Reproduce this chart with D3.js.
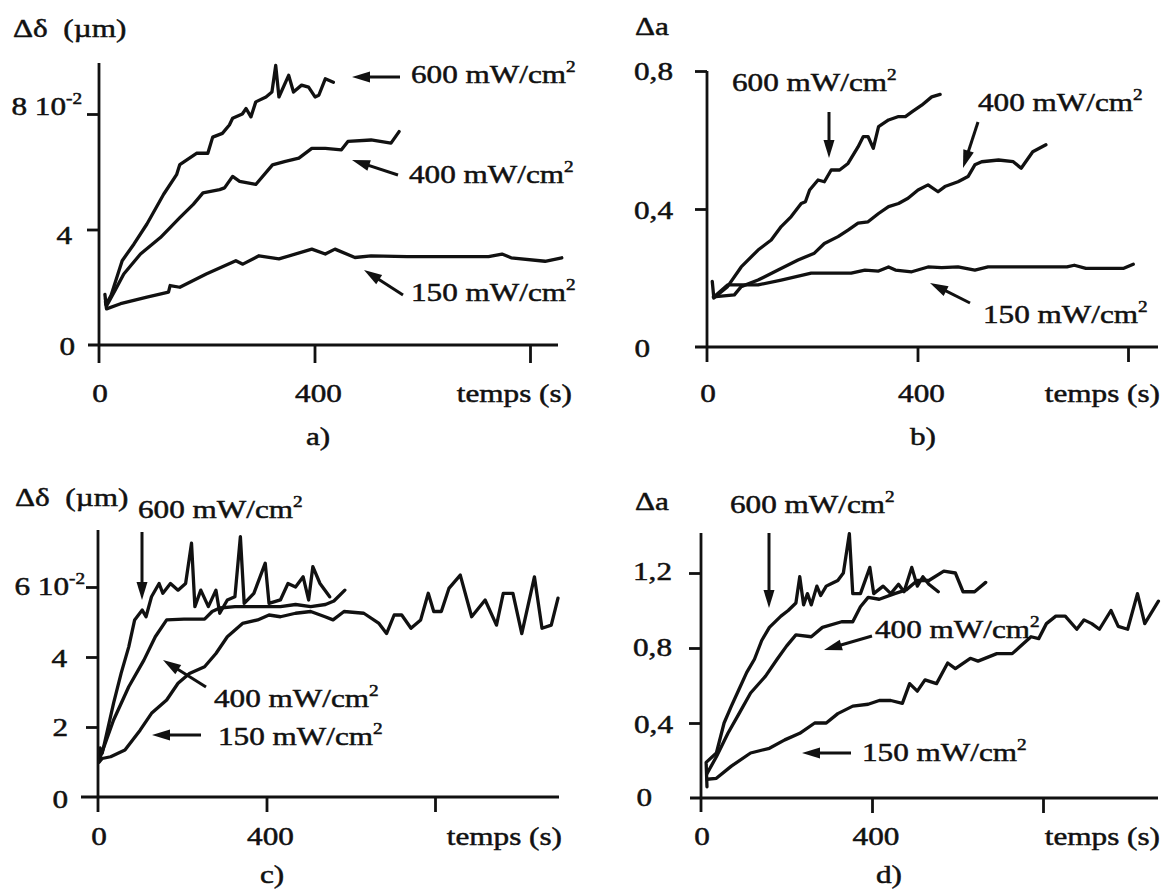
<!DOCTYPE html>
<html><head><meta charset="utf-8">
<script src="https://cdn.jsdelivr.net/npm/d3@7"></script>
<style>html,body{margin:0;padding:0;background:#fff}</style>
</head><body>
<svg id="chart" width="1165" height="890"></svg>
<script>
// ---------------- DATA (time in s, value) ----------------
const powers = ["600", "400", "150"];
const unitText = " mW/cm^2";
const xTitle = "temps (s)";
const xTicks = [0, 400, 800];
const xTickLabels = ["0", "400", ""];

// Panel a : Δδ (µm, x10^-2)
const yTicksA = [0, 4, 8];
const yLabelsA = ["0", "4", "8 10^-2"];
const a600 = [[11,1.75],[13,1.4],[22,1.7],[43,2.92],[65,3.5],[89,4.19],[120,5.22],[144,5.9],[150,6.25],[181,6.64],[202,6.64],[211,7.2],[229,7.33],[242,7.62],[248,7.85],[266,8.0],[273,8.19],[282,7.9],[291,8.42],[310,8.59],[321,8.76],[328,9.68],[334,8.59],[352,9.34],[361,8.76],[376,9.0],[389,8.93],[401,8.59],[408,8.65],[420,9.22],[435,9.1]];
const a400 = [[12,1.6],[14,1.35],[30,1.9],[46,2.46],[77,3.15],[114,3.72],[150,4.41],[175,4.87],[193,5.27],[224,5.38],[233,5.44],[248,5.84],[261,5.67],[291,5.56],[322,6.24],[346,6.36],[371,6.47],[395,6.81],[420,6.81],[450,6.76],[462,7.05],[505,7.1],[542,6.99],[557,7.39]];
const a150 = [[12,1.5],[14,1.25],[40,1.43],[89,1.66],[129,1.83],[132,2.06],[150,2.0],[199,2.46],[254,2.92],[267,2.8],[297,3.09],[334,2.98],[395,3.32],[420,3.15],[438,3.32],[475,3.03],[505,3.09],[572,3.06],[723,3.06],[748,3.15],[765,3.02],[828,2.9],[859,3.02]];

// Panel b : Δa
const yTicksB = [0, 0.4, 0.8];
const yLabelsB = ["0", "0,4", "0,8"];
const b600 = [[10,0.19],[13,0.142],[39,0.175],[65,0.232],[97,0.281],[122,0.31],[141,0.349],[160,0.378],[179,0.416],[187,0.421],[195,0.455],[211,0.484],[223,0.479],[236,0.513],[252,0.513],[268,0.532],[287,0.58],[297,0.61],[306,0.61],[316,0.576],[326,0.639],[345,0.658],[364,0.668],[377,0.668],[390,0.682],[408,0.701],[427,0.725],[443,0.732]];
const b400 = [[12,0.145],[52,0.151],[65,0.175],[97,0.194],[135,0.223],[173,0.252],[204,0.272],[223,0.3],[249,0.32],[268,0.339],[287,0.359],[306,0.363],[326,0.387],[345,0.407],[364,0.416],[382,0.431],[401,0.455],[420,0.47],[439,0.45],[452,0.465],[477,0.479],[496,0.494],[509,0.528],[522,0.537],[554,0.542],[582,0.537],[597,0.518],[608,0.542],[619,0.566],[644,0.586]];
const b150 = [[13,0.145],[39,0.18],[97,0.18],[141,0.194],[198,0.214],[274,0.214],[300,0.223],[326,0.22],[345,0.232],[358,0.223],[389,0.218],[420,0.232],[446,0.23],[477,0.232],[509,0.223],[534,0.232],[684,0.232],[698,0.237],[720,0.228],[792,0.228],[810,0.24]];

// Panel c : Δδ (µm, x10^-2)
const yTicksC = [0, 2, 4, 6];
const yLabelsC = ["0", "2", "4", "6 10^-2"];
const c600 = [[2,1.0],[5,1.4],[10,1.25],[37,2.68],[55,3.54],[73,4.29],[87,5.06],[105,5.34],[114,5.15],[127,5.72],[145,6.1],[154,5.82],[172,6.1],[190,5.91],[208,6.1],[222,7.25],[230,5.44],[244,5.91],[262,5.44],[280,5.91],[289,5.25],[307,5.63],[325,5.72],[338,7.44],[347,5.53],[370,5.82],[397,6.68],[406,5.53],[433,5.63],[451,6.1],[469,6.0],[487,6.29],[500,5.63],[510,6.58],[527,6.1],[550,5.72]];
const c400 = [[3,1.06],[37,2.2],[73,3.15],[109,3.91],[136,4.58],[163,5.06],[204,5.08],[253,5.08],[271,5.3],[289,5.4],[325,5.44],[361,5.44],[397,5.44],[433,5.44],[469,5.5],[505,5.44],[540,5.5],[560,5.6],[586,5.91]];
const c150 = [[3,1.0],[10,1.1],[30,1.15],[64,1.34],[100,1.91],[127,2.39],[163,2.77],[190,3.25],[217,3.53],[253,3.72],[280,4.1],[307,4.58],[343,4.96],[379,5.06],[406,5.2],[433,5.15],[469,5.25],[505,5.3],[539,5.15],[558,5.06],[584,5.3],[631,5.25],[667,4.96],[685,4.67],[703,5.2],[721,5.2],[743,4.82],[766,5.06],[784,5.82],[797,5.3],[815,5.3],[833,5.96],[860,6.34],[887,5.15],[919,5.63],[946,4.91],[962,5.82],[985,5.82],[1006,4.67],[1036,6.29],[1054,4.82],[1076,4.91],[1092,5.68]];

// Panel d : Δa
const yTicksD = [0, 0.4, 0.8, 1.2];
const yLabelsD = ["0", "0,4", "0,8", "1,2"];
const d600 = [[14,0.06],[12,0.19],[36,0.24],[54,0.4],[71,0.49],[89,0.58],[107,0.67],[125,0.74],[142,0.84],[160,0.91],[187,0.97],[204,1.0],[222,1.04],[231,1.18],[240,1.03],[249,1.09],[258,1.03],[271,1.13],[280,1.08],[293,1.13],[302,1.14],[320,1.16],[333,1.2],[347,1.41],[355,1.09],[373,1.09],[395,1.23],[404,1.09],[426,1.13],[444,1.09],[462,1.14],[475,1.1],[493,1.23],[506,1.13],[519,1.18],[533,1.14],[555,1.1]];
const d400 = [[14,0.13],[36,0.22],[63,0.345],[89,0.45],[116,0.56],[151,0.65],[178,0.74],[200,0.81],[222,0.87],[258,0.86],[284,0.91],[329,0.94],[355,0.94],[373,1.02],[391,1.07],[417,1.06],[453,1.09],[480,1.11],[506,1.16],[533,1.16],[568,1.21],[595,1.2],[613,1.1],[640,1.1],[666,1.15]];
const d150 = [[14,0.1],[36,0.105],[71,0.17],[116,0.24],[160,0.265],[196,0.31],[231,0.345],[266,0.4],[293,0.4],[320,0.45],[355,0.49],[391,0.5],[417,0.52],[444,0.52],[471,0.505],[488,0.61],[506,0.57],[524,0.63],[551,0.61],[577,0.72],[595,0.69],[630,0.745],[648,0.73],[692,0.77],[728,0.77],[755,0.825],[772,0.86],[790,0.85],[808,0.93],[830,0.97],[852,0.97],[879,0.9],[896,0.95],[914,0.93],[932,0.9],[959,1.0],[976,0.915],[998,0.9],[1021,1.09],[1038,0.93],[1070,1.05]];

// ---------------- LAYOUT ----------------
const INK = "#111";
const FONT = "'Liberation Serif','Times New Roman',Times,serif";
const SX = 1.2;

const panels = [
  { series:[a600,a400,a150], xRange:[99,530], yDomain:[0,8], yRange:[345,114],
    yTicks:yTicksA, yLabels:yLabelsA, yLabEnd:[75,72,82], yLabDy:[10,14,1],
    xAxis:[88,558], yAxis:[63,363], xTickLen:18, xLabY:402, titleEnd:572,
    yTitle:"Δδ\u00a0\u00a0(µm)", yTitlePos:[13,37], letter:"a)", letterPos:[318,445],
    notes:[ {tx:411,ty:83, a:[400,77,352,77]}, {tx:409,ty:183, a:[398,175,352,160]}, {tx:411,ty:301, a:[403,295,364,270]} ] },
  { series:[b600,b400,b150], xRange:[707,1128], yDomain:[0,0.8], yRange:[347,71],
    yTicks:yTicksB, yLabels:yLabelsB, yLabEnd:[650,673,673], yLabDy:[10,10,9],
    xAxis:[695,1158], yAxis:[71,362], xTickLen:15, xLabY:402, titleEnd:1160,
    yTitle:"Δa", yTitlePos:[635,35], letter:"b)", letterPos:[923,445],
    notes:[ {tx:732,ty:91, a:[829,112,829,158]}, {tx:978,ty:111, a:[978,122,963,168]}, {tx:983,ty:323, a:[970,303,930,283]} ] },
  { series:[c600,c400,c150], xRange:[98,435], yDomain:[0,6], yRange:[797,587],
    yTicks:yTicksC, yLabels:yLabelsC, yLabEnd:[68,68,67,85], yLabDy:[11,9,10,8],
    xAxis:[81,559], yAxis:[530,812], xTickLen:15, xLabY:845, titleEnd:562,
    yTitle:"Δδ\u00a0\u00a0(µm)", yTitlePos:[15,506], letter:"c)", letterPos:[272,883],
    notes:[ {tx:138,ty:518, a:[142,532,142,600]}, {tx:214,ty:707, a:[206,687,163,660]}, {tx:218,ty:745, a:[201,735,152,735]} ] },
  { series:[d600,d400,d150], xRange:[701,1043], yDomain:[0,1.2], yRange:[798,573],
    yTicks:yTicksD, yLabels:yLabelsD, yLabEnd:[652,673,672,672], yLabDy:[8,10,8,7],
    xAxis:[690,1158], yAxis:[533,812], xTickLen:15, xLabY:845, titleEnd:1160,
    yTitle:"Δa", yTitlePos:[635,510], letter:"d)", letterPos:[889,883],
    notes:[ {tx:730,ty:513, a:[769,533,769,608]}, {tx:875,ty:638, a:[872,636,824,650]}, {tx:862,ty:761, a:[851,753,802,753]} ] }
];

// ---------------- DRAW ----------------
const svg = d3.select("#chart");
svg.append("rect").attr("width",1165).attr("height",890).attr("fill","#fff");

function rich(g, x, y, str, anchor, size) {
  size = size || 26;
  const t = g.append("text")
    .attr("transform", `translate(${x},${y}) scale(${SX},1)`)
    .attr("text-anchor", anchor || "start")
    .attr("font-family", FONT).attr("font-size", size).attr("fill", INK)
    .attr("stroke", INK).attr("stroke-width", 0.5);
  const parts = str.split("^");
  t.append("tspan").text(parts[0]);
  if (parts.length > 1) t.append("tspan").attr("font-size", 16).attr("dy", -11).text(parts[1]);
  return t;
}

function arrow(g, x1, y1, x2, y2) {
  const dx = x2-x1, dy = y2-y1, L = Math.hypot(dx,dy), ux = dx/L, uy = dy/L;
  const hl = 18, hw = 5.5;
  const bx = x2 - ux*hl, by = y2 - uy*hl;
  g.append("line").attr("x1",x1).attr("y1",y1).attr("x2",bx+ux*3).attr("y2",by+uy*3)
    .attr("stroke",INK).attr("stroke-width",3);
  g.append("path").attr("d",`M${x2},${y2}L${bx-uy*hw},${by+ux*hw}L${bx+uy*hw},${by-ux*hw}Z`).attr("fill",INK);
}

panels.forEach(p => {
  const g = svg.append("g");
  const x = d3.scaleLinear().domain([0,800]).range(p.xRange);
  const y = d3.scaleLinear().domain(p.yDomain).range(p.yRange);
  const x0 = x(0), y0 = y(0);

  // axis lines
  g.append("line").attr("x1",x0).attr("x2",x0).attr("y1",p.yAxis[0]).attr("y2",p.yAxis[1])
    .attr("stroke",INK).attr("stroke-width",2.8);
  g.append("line").attr("x1",p.xAxis[0]).attr("x2",p.xAxis[1]).attr("y1",y0).attr("y2",y0)
    .attr("stroke",INK).attr("stroke-width",2.8);

  // y ticks
  const ya = g.append("g").attr("transform",`translate(${x0},0)`)
    .call(d3.axisLeft(y).tickValues(p.yTicks.filter(v => v !== 0)).tickSize(12).tickFormat(""));
  ya.select(".domain").remove();
  ya.selectAll("line").attr("stroke",INK).attr("stroke-width",2.8);

  // x ticks
  const xa = g.append("g").attr("transform",`translate(0,${y0})`)
    .call(d3.axisBottom(x).tickValues(xTicks.filter(v => v !== 0)).tickSize(p.xTickLen).tickFormat(""));
  xa.select(".domain").remove();
  xa.selectAll("line").attr("stroke",INK).attr("stroke-width",2.8);

  // y tick labels
  p.yTicks.forEach((v,i) => rich(g, p.yLabEnd[i], y(v) + p.yLabDy[i], p.yLabels[i], "end"));
  // x tick labels
  xTicks.forEach((v,i) => { if (xTickLabels[i]) rich(g, x(v) + (v ? 4 : 1), p.xLabY, xTickLabels[i], "middle"); });
  rich(g, p.titleEnd, p.xLabY, xTitle, "end");

  // titles
  rich(g, p.yTitlePos[0], p.yTitlePos[1], p.yTitle, "start");
  rich(g, p.letterPos[0], p.letterPos[1], p.letter, "middle");

  // curves
  const line = d3.line().x(d => x(d[0])).y(d => y(d[1]));
  p.series.forEach(s => {
    g.append("path").datum(s).attr("d", line).attr("fill","none")
      .attr("stroke",INK).attr("stroke-width",3.3).attr("stroke-linejoin","round").attr("stroke-linecap","round");
  });

  // annotations
  p.notes.forEach((n,i) => {
    rich(g, n.tx, n.ty, powers[i] + unitText, "start");
    arrow(g, ...n.a);
  });
});
</script>
</body></html>
